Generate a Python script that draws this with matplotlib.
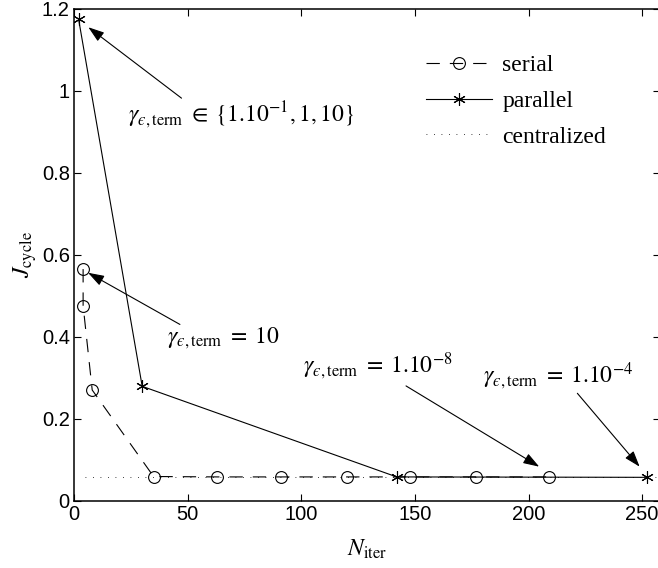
import matplotlib
matplotlib.use("Agg")
import matplotlib.pyplot as plt

plt.rcParams['mathtext.fontset'] = 'stix'
plt.rcParams['font.family'] = ['Liberation Sans', 'DejaVu Sans']

# serial iterations
serial_x = [4, 4, 8, 35, 63, 91, 120, 148, 177, 209]
serial_y = [0.565, 0.476, 0.270, 0.059, 0.058, 0.058, 0.058, 0.058, 0.058, 0.058]

# parallel iterations
parallel_x = [2, 30, 142, 252]
parallel_y = [1.175, 0.279, 0.058, 0.057]

# centralized reference
central_x = [5, 258]
central_y = [0.058, 0.058]

fig = plt.figure(figsize=(6.58, 5.68), dpi=100)
ax = fig.add_axes([0.1125, 0.1185, 0.891, 0.866])

ax.plot(serial_x, serial_y, color='k', lw=0.8, dashes=(12, 9),
        marker='o', ms=8.5, mfc='none', mec='k', mew=0.8, label='serial')
ax.plot(parallel_x, parallel_y, color='k', lw=0.8, marker=(6, 2, 0),
        ms=9, mew=0.8, label='parallel')
ax.plot(central_x, central_y, color='k', lw=0.6, ls=(0, (1, 8)),
        label='centralized')

ax.set_xlim(0, 258)
ax.set_ylim(0, 1.2)
ax.set_xticks([0, 50, 100, 150, 200, 250])
ax.set_yticks([0, 0.2, 0.4, 0.6, 0.8, 1, 1.2])
ax.set_yticklabels(['0', '0.2', '0.4', '0.6', '0.8', '1', '1.2'])
ax.tick_params(direction='in', top=True, right=True, length=5, width=0.8,
               labelsize=14.5, pad=3)
for s in ax.spines.values():
    s.set_linewidth(1.1)

ax.set_xlabel(r'$N_{\mathrm{iter}}$', fontsize=17, labelpad=10)
ax.set_ylabel(r'$J_{\mathrm{cycle}}$', fontsize=17, labelpad=2)

leg = ax.legend(loc='upper right', bbox_to_anchor=(0.944, 0.95), frameon=False,
                prop={'family': 'Liberation Serif', 'size': 17},
                handlelength=2.8, handletextpad=0.45, labelspacing=0.6)

arrow = dict(arrowstyle='-|>,head_length=0.65,head_width=0.22', color='k',
             lw=0.8, mutation_scale=15, shrinkA=0, shrinkB=0)
tsize = 17
g = '\\gamma_{\u03f5,\\mathrm{term}}'

# arrows (tail -> head)
ax.annotate('', xy=(6.3, 1.155), xytext=(47.3, 0.982), arrowprops=arrow)
ax.annotate('', xy=(6.2, 0.556), xytext=(46.6, 0.43), arrowprops=arrow)
ax.annotate('', xy=(204.7, 0.083), xytext=(146.1, 0.28), arrowprops=arrow)
ax.annotate('', xy=(248.9, 0.083), xytext=(221.5, 0.262), arrowprops=arrow)

# labels
ax.text(23.7, 0.941, '$' + g + r'\;\in\;\{1.10^{-1}, 1, 10\}$', fontsize=tsize,
        ha='left', va='center')
ax.text(40.7, 0.395, '$' + g + r'\;=\;10$', fontsize=tsize,
        ha='left', va='center')
ax.text(100.7, 0.33, '$' + g + r'\;=\;1.10^{-8}$', fontsize=tsize,
        ha='left', va='center')
ax.text(179.8, 0.305, '$' + g + r'\;=\;1.10^{-4}$', fontsize=tsize,
        ha='left', va='center')

fig.savefig('out.png', dpi=100)
